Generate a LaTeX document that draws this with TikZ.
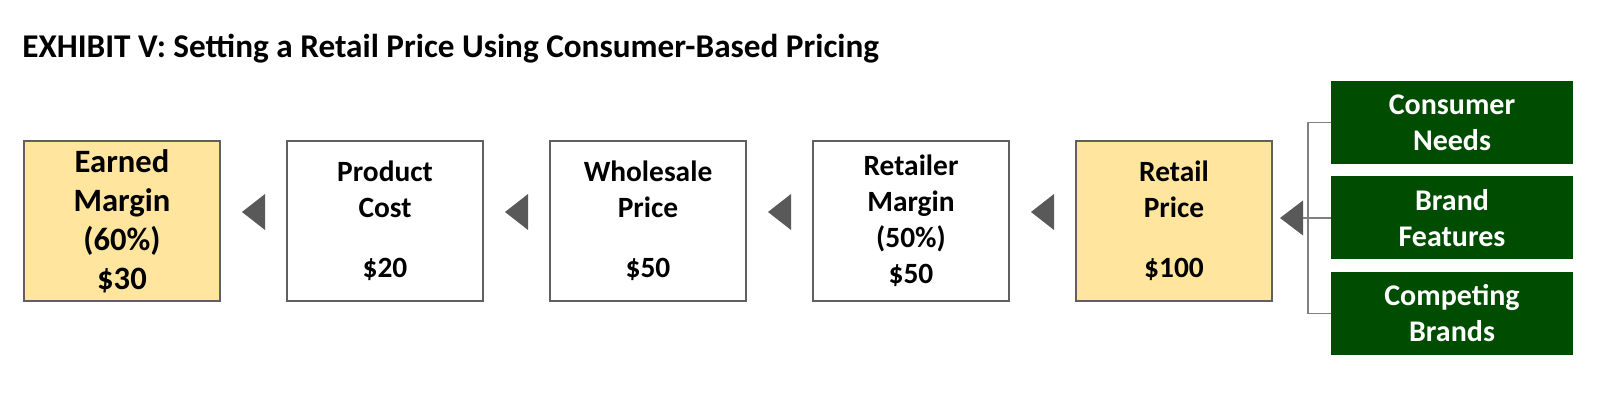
\documentclass[tikz,border=0pt]{standalone}
\usepackage{fontspec}
\setmainfont{Carlito}
\usetikzlibrary{positioning}

\definecolor{gold}{RGB}{255,229,158}
\definecolor{darkgreen}{RGB}{0,76,0}
\definecolor{edgegray}{RGB}{96,96,96}
\definecolor{tipgray}{RGB}{89,89,89}
\definecolor{bracketgray}{RGB}{128,128,128}

\tikzset{
  pricebox/.style={draw=edgegray, line width=1.2pt, fill=white, minimum width=98pt, minimum height=80pt,
    inner sep=0pt, align=center, font=\bfseries\fontsize{14.7}{18}\selectfont},
  factorbox/.style={fill=darkgreen, text=white, minimum width=121pt, minimum height=41.5pt,
    inner sep=0pt, align=center, font=\bfseries\fontsize{15}{18}\selectfont},
  bracket/.style={draw=bracketgray, line width=0.8pt}
}

\begin{document}
\begin{tikzpicture}[x=0.5pt,y=-0.5pt]
	\useasboundingbox (0,0) rectangle (1600,405);
	\node[anchor=base west, inner sep=0pt, font=\bfseries\fontsize{16.6}{18}\selectfont] (title) at (22,58) {EXHIBIT V: Setting a Retail Price Using Consumer-Based Pricing};

	\node at (122,221) [pricebox, fill=gold, font=\bfseries\fontsize{16.3}{19.5}\selectfont] (earned) {Earned\\Margin\\(60\%)\\\$30};
	\node at (385,221) [pricebox] (cost) {Product\\Cost\\[12pt]\$20};
	\node at (648,221) [pricebox] (wholesale) {Wholesale\\Price\\[12pt]\$50};
	\node at (911,221) [pricebox] (retmargin) {Retailer\\Margin\\(50\%)\\\$50};
	\node at (1174,221) [pricebox, fill=gold] (retail) {Retail\\Price\\[12pt]\$100};

	\node at (1452,122.5) [factorbox] (needs) {Consumer\\Needs};
	\node at (1452,218) [factorbox] (features) {Brand\\Features};
	\node at (1452,313.5) [factorbox] (brands) {Competing\\Brands};

	% pointers between the boxes
	\foreach \x in {253.5,516.5,779.5,1042.5}
		\fill[tipgray] (\x,212) ++(-11.5,0) -- ++(23,-18) -- ++(0,36) -- cycle;
	\coordinate (tip) at (1303,218);
	\fill[tipgray] (tip) ++(-23,0) -- ++(23,-17.5) -- ++(0,35) -- cycle;

	% bracket joining the factors
	\coordinate (brk) at (1308,218);
	\draw[bracket] (needs.west) -| (brk) |- (brands.west);
	\draw[bracket] (features.west) -- (tip);
\end{tikzpicture}
\end{document}
